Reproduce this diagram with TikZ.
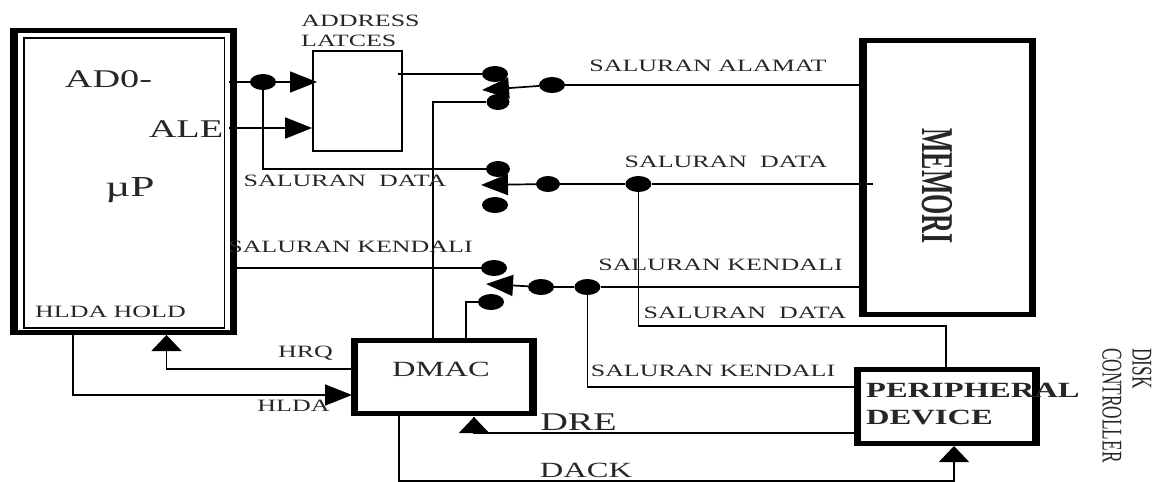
\documentclass[tikz,border=0pt]{standalone}
\usepackage{fontspec}
\usepackage{graphicx}
\setmainfont[FakeStretch=1.5]{Liberation Serif}
\newfontfamily\narrowfont{Liberation Serif}
\usetikzlibrary{positioning,arrows.meta,shapes.geometric}

\begin{document}
\begin{tikzpicture}[x=1pt,y=-1pt]
   \tikzstyle{wire} = [line width=1.7pt]
   \tikzstyle{arrow} = [wire,->,>={Triangle[length=27pt,width=21pt]}]
   \tikzstyle{uparrow} = [wire,->,>={Triangle[length=16pt,width=30pt]}]
   \tikzset{box/.style = {rectangle, draw, line width=5pt, inner sep=0pt,
       preaction={draw, transform canvas={xshift=1.25pt}},
       postaction={draw, transform canvas={xshift=-1.25pt}}}, }
   \tikzset{thinbox/.style = {rectangle, draw, line width=1.7pt, inner sep=0pt}, }
   \tikzset{dot/.style = {ellipse, fill=black, inner sep=0pt, minimum width=26pt, minimum height=16pt}, }
   \tikzset{lbl/.style = {inner sep=0pt, text=black!85, font=\fontsize{17.3}{19}\selectfont}, }
   \tikzset{biglbl/.style = {inner sep=0pt, text=black!85, font=\fontsize{25.5}{28}\selectfont}, }
   \tikzset{midlbl/.style = {inner sep=0pt, text=black!85, font=\fontsize{21.7}{24}\selectfont}, }
   \tikzset{sidelbl/.style = {inner sep=0pt, text=black!85, rotate=-90, anchor=west, font=\narrowfont\fontsize{17.3}{19}\selectfont}, }
   \useasboundingbox (0,0) rectangle (1157,482);

   % blocks
   \node[box, minimum width=219.5pt, minimum height=302pt] (up) at (123.75,181.5) {};
   \node[thinbox, minimum width=200.5pt, minimum height=290pt] (upin) at (124.25,183) {};
   \node[thinbox, minimum width=89pt, minimum height=100pt] (latch) at (357.5,101) {};
   \node[box, minimum width=169.5pt, minimum height=274pt] (mem) at (947.75,177.5) {};
   \node[box, minimum width=178.5pt, minimum height=73pt] (dmac) at (443.75,377) {};
   \node[box, minimum width=178.5pt, minimum height=74pt] (dev) at (946.75,406.5) {};

   % junctions and switch contacts
   \node[dot] (jAd) at (263,82) {};
   \node[dot] (swAup) at (495,74) {};
   \node[dot, minimum width=23pt] (swAlow) at (498,102) {};
   \node[dot] (jAl) at (552,85) {};
   \node[dot, minimum width=24pt] (swDup) at (498,169) {};
   \node[dot] (swDlow) at (495,205) {};
   \node[dot, minimum width=24pt] (jDa) at (548,184) {};
   \node[dot, right=65pt of jDa] (jDb) {};
   \node[dot] (swKup) at (494,268) {};
   \node[dot] (swKlow) at (491,302) {};
   \node[dot] (jKa) at (541,287) {};
   \node[dot, right=20pt of jKa] (jKb) {};

   \coordinate (adOut) at (229,82);
   \coordinate (adIn) at (317,82);
   \coordinate (aleOut) at (229,128);
   \coordinate (latOut) at (398,74);
   \coordinate (tipA) at (482,90);
   \coordinate (tipD) at (481,185);
   \coordinate (tipK) at (486,284);
   \coordinate (memD) at (873,184);
   \coordinate (upK) at (237,268);
   \coordinate (dmacA) at (433,340);
   \coordinate (dmacB) at (466,340);
   \coordinate (devD) at (946,368);
   \coordinate (hrqEnd) at (166.5,335);
   \coordinate (hldaEnd) at (73,335);
   \coordinate (dreEnd) at (474,417);
   \coordinate (dackEnd) at (399,416);
   \coordinate (dackTip) at (954,446);

   % upper lines
   \draw[wire] (adOut) -- (jAd);
   \draw[arrow] (jAd) -- (adIn);
   \draw[arrow] (aleOut) -- (latch.west |- aleOut);
   \draw[wire] (latOut) -- (swAup);
   \draw[wire] (jAd) |- (swDup);
   \draw[wire] (dmacA) |- (swAlow);
   \draw[arrow] (jAl) -- (tipA);
   \draw[wire] (jAl) -- (jAl -| mem.west);
   \draw[arrow] (jDa) -- (tipD);
   \draw[wire] (jDa) -- (jDb) -- (memD);
   \draw[wire] (upK) -- (swKup);
   \draw[wire] (dmacB) |- (swKlow);
   \draw[arrow] (jKa) -- (tipK);
   \draw[wire] (jKa) -- (jKb) -- (jKb -| mem.west);

   % lines to the device
   \draw[wire] (jDb) -- (jDb |- 0,326) -| (devD);
   \draw[wire] (jKb) |- (dev.west |- 0,387);

   % handshake lines
   \draw[wire] (dmac.west |- 0,369) -| (hrqEnd);
   \draw[uparrow] (hrqEnd |- 0,351) -- (hrqEnd);
   \draw[arrow] (hldaEnd) |- (dmac.west |- 0,395);
   \draw[wire] (dev.west |- 0,433) -| (dreEnd);
   \draw[uparrow] (dreEnd |- 0,433) -- (dreEnd);
   \draw[wire] (dackEnd) |- (dackTip |- 0,481) -- (dackTip |- 0,461);
   \draw[uparrow] (dackTip |- 0,462) -- (dackTip);

   % labels
   \node[lbl] (tAddr) at (360.5,21) {ADDRESS};
   \node[lbl, anchor=west] (tLat) at (301,41) {LATCES};
   \node[biglbl] (tAd) at (108.5,79) {AD0-};
   \node[biglbl] (tAle) at (186,129) {ALE};
   \node[biglbl, font=\fontsize{29}{32}\selectfont] (tUp) at (130,190) {µP};
   \node[lbl] (tHold) at (110.5,312) {HLDA HOLD};
   \node[lbl] (tDa) at (345,181) {SALURAN\ \ DATA};
   \node[lbl] (tKa) at (350.5,247) {SALURAN KENDALI};
   \node[lbl] (tAl) at (708,66) {SALURAN ALAMAT};
   \node[lbl] (tDb) at (726,162) {SALURAN\ \ DATA};
   \node[lbl] (tKb) at (720.5,265) {SALURAN KENDALI};
   \node[lbl] (tDc) at (745,313) {SALURAN\ \ DATA};
   \node[lbl] (tKc) at (713,371) {SALURAN KENDALI};
   \node[lbl] (tHrq) at (305.5,353) {HRQ};
   \node[lbl] (tHlda) at (293.5,406) {HLDA};
   \node[midlbl] (tDmac) at (441,369) {DMAC};
   \node[biglbl] (tDre) at (578.5,422) {DRE};
   \node[midlbl] (tDack) at (586,470) {DACK};
   \node[midlbl, anchor=west, font=\bfseries\fontsize{21.7}{24}\selectfont] (tPer) at (866,390) {PERIPHERAL};
   \node[midlbl, anchor=west, font=\bfseries\fontsize{21.7}{24}\selectfont] (tDev) at (866,417) {DEVICE};
   \node[sidelbl, font=\narrowfont\bfseries\fontsize{26}{28}\selectfont] (tMem) at (937,128) {\scalebox{1}[1.75]{MEMORI}};
   \node[sidelbl] (tDisk) at (1142,348) {\scalebox{1}[1.65]{DISK}};
   \node[sidelbl] (tCtrl) at (1112,348) {\scalebox{1}[1.65]{CONTROLLER}};
\end{tikzpicture}
\end{document}
